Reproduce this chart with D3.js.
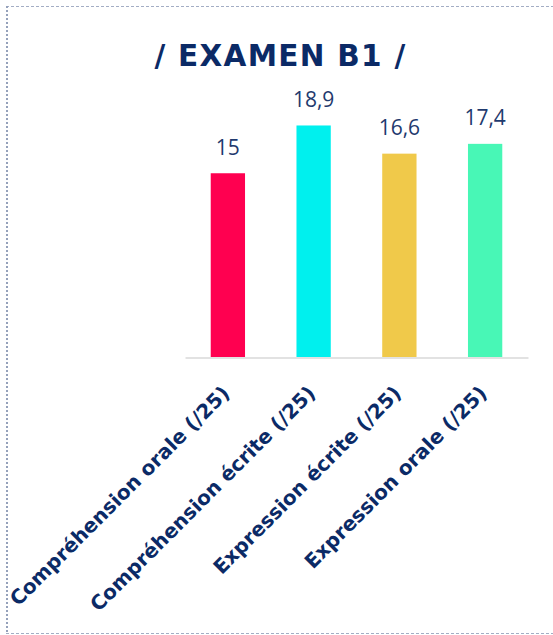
<!DOCTYPE html>
<html>
<head>
<meta charset="utf-8">
<script src="https://cdn.jsdelivr.net/npm/d3@7"></script>
<style>
  html, body { margin: 0; padding: 0; background: #fff; }
  svg { display: block; }
</style>
</head>
<body>
<svg id="chart"></svg>
<script>
// data
var categories = ["Compréhension orale (/25)", "Compréhension écrite (/25)", "Expression écrite (/25)", "Expression orale (/25)"];
var scores = [15, 18.9, 16.6, 17.4];
var scoreLabels = ["15", "18,9", "16,6", "17,4"];
var barColors = ["#ff0050", "#00f0ee", "#f0c94a", "#48f7b6"];
var title = "/ EXAMEN B1 /";

var width = 553, height = 635;
var svg = d3.select("#chart").attr("width", width).attr("height", height);

// frame (dotted border)
svg.append("line").attr("x1", 6).attr("x2", 553).attr("y1", 6.5).attr("y2", 6.5)
    .attr("stroke", "#a3adc4").attr("stroke-width", 1.2).attr("stroke-dasharray", "3,2");
svg.append("line").attr("x1", 6).attr("x2", 553).attr("y1", 633.5).attr("y2", 633.5)
    .attr("stroke", "#a3adc4").attr("stroke-width", 1.2).attr("stroke-dasharray", "3,2");
svg.append("line").attr("x1", 7).attr("x2", 7).attr("y1", 6).attr("y2", 634)
    .attr("stroke", "#95a1bb").attr("stroke-width", 2).attr("stroke-dasharray", "2,2");

svg.append("text")
    .attr("x", 280.5).attr("y", 65.5)
    .attr("text-anchor", "middle")
    .style("font-family", "'DejaVu Sans', sans-serif")
    .style("font-weight", "bold")
    .style("font-size", "29.5px")
    .style("letter-spacing", "1.3px")
    .attr("fill", "#0b2a66")
    .text(title);

var baseY = 357;
var x = d3.scaleBand().domain(categories).range([185, 528])
    .paddingInner(0.6).paddingOuter(0.3);
var y = d3.scaleLinear().domain([0, 20]).range([baseY, baseY - 245]);

var rows = categories.map(function(c, i) {
  return {cat: c, value: scores[i], label: scoreLabels[i], color: barColors[i]};
});

svg.selectAll(".bar")
    .data(rows)
    .enter().append("rect")
    .attr("class", "bar")
    .attr("x", function(d) { return x(d.cat); })
    .attr("y", function(d) { return y(d.value); })
    .attr("width", x.bandwidth())
    .attr("height", function(d) { return baseY - y(d.value); })
    .attr("fill", function(d) { return d.color; });

svg.selectAll(".val")
    .data(rows)
    .enter().append("text")
    .attr("class", "val")
    .attr("x", function(d) { return x(d.cat) + x.bandwidth() / 2; })
    .attr("y", function(d) { return y(d.value) - 18.5; })
    .attr("text-anchor", "middle")
    .style("font-family", "'Open Sans', sans-serif")
    .style("font-size", "21px")
    .attr("fill", "#1f3a6e")
    .text(function(d) { return d.label; });

var axis = svg.append("g")
    .attr("transform", "translate(0," + (baseY + 0.5) + ")")
    .call(d3.axisBottom(x).tickSize(0).tickSizeOuter(0));

axis.select(".domain").attr("stroke", "#d9d9d9").attr("stroke-width", 1.5);
axis.selectAll(".tick text")
    .attr("x", 0).attr("y", 0).attr("dy", 0)
    .attr("transform", "translate(3,37) rotate(-45)")
    .style("text-anchor", "end")
    .style("font-family", "'DejaVu Sans', sans-serif")
    .style("font-weight", "bold")
    .style("font-size", "20px")
    .attr("fill", "#0b2a66");
</script>
</body>
</html>
